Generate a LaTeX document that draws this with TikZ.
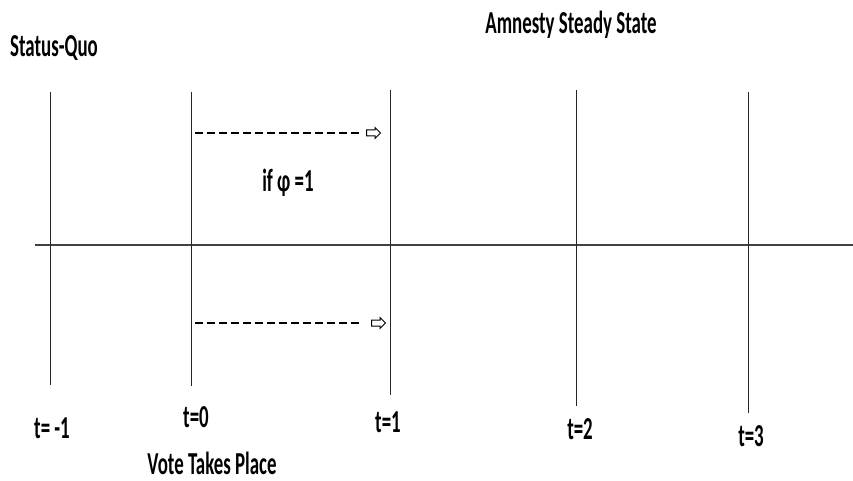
\documentclass[tikz,border=0pt]{standalone}
\usepackage{fontspec}
\setmainfont{Carlito}[FakeStretch=0.59]
\usetikzlibrary{shapes.arrows,positioning}

\begin{document}
\begin{tikzpicture}[
    x=1pt, y=-1pt,
    tick/.style={draw=black!85, line width=0.9pt},
    axis/.style={draw=black!75, line width=2.4pt},
    lbl/.style={font=\bfseries\fontsize{32}{34}\selectfont, inner sep=0pt},
    move/.style={dash pattern=on 8pt off 4pt, line width=1.4pt},
    blockarrow/.style={single arrow, draw, fill=white, line width=1pt, inner xsep=5pt, inner ysep=2.5pt, single arrow head extend=2.5pt, single arrow tip angle=90}
]
\useasboundingbox (0,0) rectangle (853,481);

% time axis and the five dates
\draw[axis] (35,245) coordinate (axL) -- (853,245) coordinate (axR);
\foreach \n/\x/\top/\bot in {m1/50/92/385, 0/191/92/386, 1/390/90/395, 2/576/90/406, 3/748/92/413}
    \draw[tick] (\x,\top) coordinate (top\n) -- (\x,\bot) coordinate (bot\n);

% labels
\node[lbl] (sq) at (54,48) {Status-Quo};
\node[lbl] (ass) at (571,25) {Amnesty Steady State};
\node[lbl] (cond) at (288,183) {if φ =1};
\node[lbl] (lm1) at (52,428) {t= -1};
\node[lbl] (l0) at (196,417) {t=0};
\node[lbl] (l1) at (388,422) {t=1};
\node[lbl] (l2) at (580,429) {t=2};
\node[lbl] (l3) at (751,436) {t=3};
\node[lbl] (vote) at (212,463) {Vote Takes Place};

% moves from t=0 to t=1
\node[blockarrow] (tipA) at (372,133) {};
\node[blockarrow] (tipB) at (377,323) {};
\coordinate (srcA) at (195,133);
\coordinate (srcB) at (195,323);
\draw[move] (srcA) -- ([xshift=-4pt]tipA.west);
\draw[move] (srcB) -- ([xshift=-8pt]tipB.west);

\end{tikzpicture}
\end{document}
